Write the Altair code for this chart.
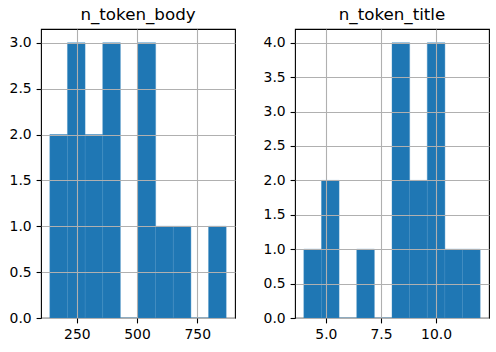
import altair as alt
import pandas as pd

# n_token_body histogram
body_edges = [138.0, 211.2, 284.4, 357.6, 430.8, 504.0, 577.2, 650.4, 723.6, 796.8, 870.0]
body_counts = [2, 3, 2, 3, 0, 3, 1, 1, 0, 1]
body_xticks = [250, 500, 750]
body_yticks = [0.0, 0.5, 1.0, 1.5, 2.0, 2.5, 3.0]

# n_token_title histogram
title_edges = [4.0, 4.8, 5.6, 6.4, 7.2, 8.0, 8.8, 9.6, 10.4, 11.2, 12.0]
title_counts = [1, 2, 0, 1, 0, 4, 2, 4, 1, 1]
title_xticks = [5.0, 7.5, 10.0]
title_yticks = [0.0, 0.5, 1.0, 1.5, 2.0, 2.5, 3.0, 3.5, 4.0]

FONT = "DejaVu Sans"
BLUE = "#1f77b4"


def panel(name, edges, counts, xticks, xfmt, yticks):
    df = pd.DataFrame({"start": edges[:-1], "end": edges[1:], "count": counts})
    span = edges[-1] - edges[0]
    xdom = [edges[0] - 0.05 * span, edges[-1] + 0.05 * span]
    ymax = max(counts) * 1.05
    axis_common = dict(
        grid=True, gridColor="#b0b0b0", gridWidth=1.1, zindex=1,
        domain=False, tickColor="black", tickSize=4.9, tickWidth=1.1,
        labelFont=FONT, labelFontSize=13.9, labelColor="black", labelPadding=4.9,
        title=None, labelFlush=False, labelOverlap=False,
    )
    return alt.Chart(df, title=alt.TitleParams(name, font=FONT, fontSize=16.7,
                                               fontWeight="normal", color="black",
                                               offset=5)).mark_rect(
        color=BLUE, stroke="#3b88c0", strokeWidth=0.4
    ).encode(
        x=alt.X("start:Q", scale=alt.Scale(domain=xdom, nice=False, zero=False),
                axis=alt.Axis(values=xticks, format=xfmt, **axis_common)),
        x2="end:Q",
        y=alt.Y("count:Q", scale=alt.Scale(domain=[0, ymax], nice=False),
                axis=alt.Axis(values=yticks, format=".1f", **axis_common)),
        y2=alt.datum(0),
    ).properties(width=194, height=289)


left = panel("n_token_body", body_edges, body_counts, body_xticks, "d", body_yticks)
right = panel("n_token_title", title_edges, title_counts, title_xticks, ".1f", title_yticks)

chart = alt.hconcat(left, right, spacing=26).properties(
    padding={"left": 8, "top": 6, "right": 5, "bottom": 5},
    background="white",
).configure_view(stroke="black", strokeWidth=1.1)

chart.save("out.html", embed_options={"renderer": "svg", "actions": False})
